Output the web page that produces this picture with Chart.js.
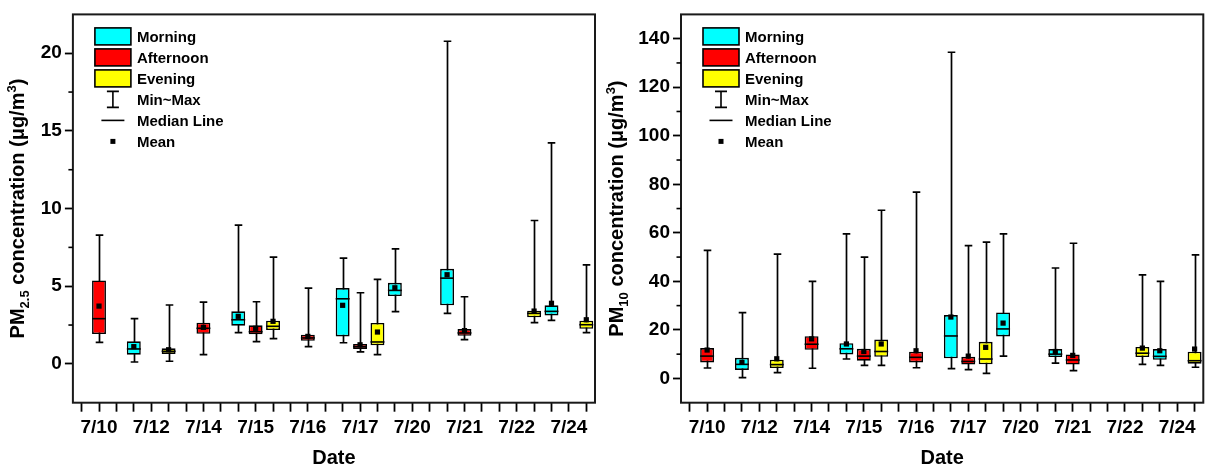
<!DOCTYPE html>
<html><head><meta charset="utf-8">
<script src="https://cdn.jsdelivr.net/npm/chart.js@4.4.1/dist/chart.umd.min.js"></script>
<style>
html,body{margin:0;padding:0;background:#fff;}
#wrap{position:relative;width:1207px;height:470px;overflow:hidden;}
.c{position:absolute;top:0;height:470px;}
#c1{left:0;width:605px;}
#c2{left:605px;width:602px;}
</style></head><body>
<div id="wrap"><div class="c" id="c1"><canvas id="pm25"></canvas></div><div class="c" id="c2"><canvas id="pm10"></canvas></div></div>
<script>
// ---------------- DATA ----------------
const dates = ['7/10','7/12','7/14','7/15','7/16','7/17','7/20','7/21','7/22','7/24'];
const periodNames = ['Morning','Afternoon','Evening'];
// each entry: [min, q1, median, q3, max, mean]; null = no data
const pm25Morning = [null,[0.12,0.59,0.96,1.45,2.91,1.11],null,[2.01,2.46,2.84,3.38,8.93,3.06],null,[1.36,1.77,4.19,4.88,6.81,3.77],[3.36,4.37,4.73,5.22,7.41,4.90],[3.25,3.77,5.52,6.12,20.77,5.74],null,[2.80,3.12,3.38,3.77,14.23,3.90]];
const pm25Afternoon = [[1.39,1.92,2.91,5.37,8.29,3.72],null,[0.59,1.94,2.29,2.65,3.98,2.35],[1.43,1.90,2.07,2.48,4.00,2.29],[1.11,1.49,1.67,1.88,4.88,1.77],[0.77,0.96,1.11,1.28,4.58,1.23],null,[1.56,1.81,1.99,2.24,4.32,2.14],null,null];
const pm25Evening = [null,[0.17,0.64,0.81,1.00,3.79,0.91],null,[1.62,2.18,2.42,2.78,6.87,2.74],null,[0.59,1.20,1.41,2.63,5.44,2.05],null,null,[2.65,3.00,3.25,3.42,9.23,3.40],[2.01,2.26,2.52,2.78,6.38,2.84]];
const pm10Morning = [null,[0.3,3.5,5.8,8.5,27.1,6.6],null,[8.0,9.9,12.2,14.5,59.6,14.2],null,[4.0,8.3,17.5,26.1,134.4,25.3],[9.2,17.3,20.4,27.2,59.6,22.8],[6.3,8.8,10.0,12.1,45.5,11.1],null,[5.4,7.7,9.1,12.1,40.0,11.4]];
const pm10Afternoon = [[4.3,6.6,9.2,12.5,52.8,11.7],null,[4.2,11.8,14.1,17.4,40.0,16.3],[5.4,7.3,9.2,12.2,50.0,11.1],[4.4,6.6,8.7,11.0,76.8,11.4],[3.6,5.7,7.0,8.9,54.7,9.2],null,[3.2,5.7,7.6,9.9,55.7,9.5],null,null];
const pm10Evening = [null,[2.4,4.3,5.7,7.7,51.2,8.1],null,[5.4,8.9,11.1,16.0,69.3,14.2],null,[2.1,5.8,8.0,15.1,56.2,12.8],null,null,[5.8,8.8,10.4,13.0,42.7,12.5],[4.6,6.1,7.3,11.0,50.9,12.1]];
const pm25TickLabels = ['0','5','10','15','20'];
const pm10TickLabels = ['0','20','40','60','80','100','120','140'];

// ---------------- STYLE ----------------
const FONT = "'Liberation Sans', Arial, sans-serif";
const boxColors = ['#00FFFF','#FF0000','#FFFF00'];
const slots = dates.flatMap(d => ['', d, '']);

function drawYTitle(ctx, cx, cy, pieces) {
  ctx.save();
  ctx.translate(cx, cy);
  ctx.rotate(-Math.PI/2);
  ctx.fillStyle = '#000';
  ctx.textBaseline = 'alphabetic';
  let total = 0;
  pieces.forEach(p => { ctx.font = 'bold ' + p.size + 'px ' + FONT; p.w = ctx.measureText(p.t).width; total += p.w; });
  let xx = -total/2;
  pieces.forEach(p => { ctx.font = 'bold ' + p.size + 'px ' + FONT; ctx.fillText(p.t, xx, 7 + p.dy); xx += p.w; });
  ctx.restore();
}

const boxPlugin = {
  id: 'boxExtras',
  beforeDatasetsDraw(chart) {
    const {ctx, scales:{x, y}} = chart;
    const cfg = chart.options.plugins.boxExtras;
    ctx.save();
    ctx.strokeStyle = '#000'; ctx.lineWidth = 1.7;
    cfg.series.forEach((s, p) => s.forEach((st, i) => {
      if (!st) return;
      const px = Math.round(x.getPixelForValue(i*3+p)) + 0.5;
      const y0 = y.getPixelForValue(st[0]), y1 = y.getPixelForValue(st[4]);
      ctx.beginPath();
      ctx.moveTo(px, y0); ctx.lineTo(px, y1);
      ctx.moveTo(px-3.8, y0); ctx.lineTo(px+3.8, y0);
      ctx.moveTo(px-3.8, y1); ctx.lineTo(px+3.8, y1);
      ctx.stroke();
    }));
    ctx.restore();
  },
  afterDatasetsDraw(chart) {
    const {ctx, scales:{x, y}} = chart;
    const cfg = chart.options.plugins.boxExtras;
    const half = (x.getPixelForValue(1) - x.getPixelForValue(0)) * 0.4;
    ctx.save();
    cfg.series.forEach((s, p) => s.forEach((st, i) => {
      if (!st) return;
      const px = x.getPixelForValue(i*3+p);
      const ym = y.getPixelForValue(st[2]);
      ctx.strokeStyle = '#000'; ctx.lineWidth = 1.6;
      ctx.beginPath(); ctx.moveTo(px-half, ym); ctx.lineTo(px+half, ym); ctx.stroke();
      const ya = y.getPixelForValue(st[5]);
      ctx.fillStyle = '#000';
      ctx.fillRect(px-2.6, ya-2.6, 5.2, 5.2);
    }));
    ctx.restore();
  },
  afterDraw(chart) {
    const {ctx, chartArea:a, scales:{y}} = chart;
    const cfg = chart.options.plugins.boxExtras;
    ctx.save();
    // frame
    ctx.strokeStyle = '#1a1a1a'; ctx.lineWidth = 2;
    ctx.strokeRect(a.left, a.top, a.right - a.left, a.bottom - a.top);
    // minor y ticks
    ctx.lineWidth = 1.6; ctx.strokeStyle = '#000';
    for (let v = cfg.yMin + cfg.yStep; v < cfg.yMax; v += cfg.yStep) {
      if (cfg.labels.includes(String(v))) continue;
      const py = y.getPixelForValue(v);
      ctx.beginPath(); ctx.moveTo(a.left - 4.5, py); ctx.lineTo(a.left, py); ctx.stroke();
    }
    // legend
    const lx = a.left + 22, tx = a.left + 64;
    ctx.font = 'bold 15px ' + FONT; ctx.textBaseline = 'middle'; ctx.fillStyle = '#000';
    const rowY = i => a.top + 22 + i*21;
    periodNames.forEach((n, i) => {
      const ry = rowY(i);
      ctx.fillStyle = boxColors[i];
      ctx.fillRect(lx, ry - 8.5, 36, 17);
      ctx.strokeStyle = '#000'; ctx.lineWidth = 1.6;
      ctx.strokeRect(lx, ry - 8.5, 36, 17);
      ctx.fillStyle = '#000';
      ctx.fillText(n, tx, ry + 1);
    });
    const cx = lx + 18;
    let ry = rowY(3);
    ctx.beginPath();
    ctx.moveTo(cx, ry - 8); ctx.lineTo(cx, ry + 8);
    ctx.moveTo(cx - 6, ry - 8); ctx.lineTo(cx + 6, ry - 8);
    ctx.moveTo(cx - 6, ry + 8); ctx.lineTo(cx + 6, ry + 8);
    ctx.stroke();
    ctx.fillText('Min~Max', tx, ry + 1);
    ry = rowY(4);
    ctx.beginPath(); ctx.moveTo(cx - 11.5, ry); ctx.lineTo(cx + 11.5, ry); ctx.stroke();
    ctx.fillText('Median Line', tx, ry + 1);
    ry = rowY(5);
    ctx.fillRect(cx - 2.5, ry - 2.5, 5, 5);
    ctx.fillText('Mean', tx, ry + 1);
    ctx.restore();
    // y title
    drawYTitle(ctx, a.left - cfg.titleOffset, (a.top + a.bottom)/2, cfg.title);
  }
};

function makeChart(id, series, yMin, yMax, yStep, labels, title, axisWidth, padRight, titleOffset) {
  const datasets = series.map((s, p) => ({
    label: periodNames[p],
    data: slots.map((_, k) => (k % 3 === p && s[Math.floor(k/3)]) ? [s[Math.floor(k/3)][1], s[Math.floor(k/3)][3]] : null),
    backgroundColor: boxColors[p],
    borderColor: '#000',
    borderWidth: 1.6,
    borderSkipped: false,
    grouped: false,
    barPercentage: 0.8,
    categoryPercentage: 1.0
  }));
  return new Chart(document.getElementById(id), {
    type: 'bar',
    data: { labels: slots, datasets },
    plugins: [boxPlugin],
    options: {
      responsive: true, maintainAspectRatio: false, animation: false,
      layout: { padding: { top: 12.7, right: padRight, bottom: 0, left: 0 } },
      plugins: {
        legend: { display: false }, tooltip: { enabled: false },
        boxExtras: { series, yMin, yMax, yStep, labels, title, titleOffset }
      },
      scales: {
        x: {
          offset: true,
          grid: { offset: false, drawOnChartArea: false, drawTicks: true, tickLength: 9, tickWidth: 1.8, tickColor: '#000' },
          border: { display: false },
          ticks: { autoSkip: false, maxRotation: 0, minRotation: 0, padding: 5, color: '#000', font: { family: FONT, size: 19, weight: 'bold' } },
          title: { display: true, text: 'Date', color: '#000', padding: { top: 0, bottom: 0 }, font: { family: FONT, size: 20, weight: 'bold' } },
          afterFit: s => { s.height = 67.3; }
        },
        y: {
          min: yMin, max: yMax,
          grid: { drawOnChartArea: false, drawTicks: true, tickLength: 8, tickWidth: 1.8,
                  tickColor: c => labels.includes(String(c.tick.value)) ? '#000' : 'rgba(0,0,0,0)' },
          border: { display: false },
          ticks: { stepSize: yStep, maxTicksLimit: 100, autoSkip: false, padding: 3, color: '#000', font: { family: FONT, size: 19, weight: 'bold' },
                   callback: v => labels.includes(String(v)) ? String(v) : '' },
          afterFit: s => { s.width = axisWidth; }
        }
      }
    }
  });
}

makeChart('pm25', [pm25Morning, pm25Afternoon, pm25Evening], -2.5, 22.5, 2.5, pm25TickLabels,
  [{t:'PM',size:20,dy:0},{t:'2.5',size:13,dy:5},{t:' concentration (\u03bcg/m',size:20,dy:0},{t:'3',size:13,dy:-8},{t:')',size:20,dy:0}],
  72.9, 10, 55.5);
makeChart('pm10', [pm10Morning, pm10Afternoon, pm10Evening], -10, 150, 10, pm10TickLabels,
  [{t:'PM',size:20,dy:0},{t:'10',size:13,dy:5},{t:' concentration (\u03bcg/m',size:20,dy:0},{t:'3',size:13,dy:-8},{t:')',size:20,dy:0}],
  76, 3.7, 65.5);
</script>
</body></html>
